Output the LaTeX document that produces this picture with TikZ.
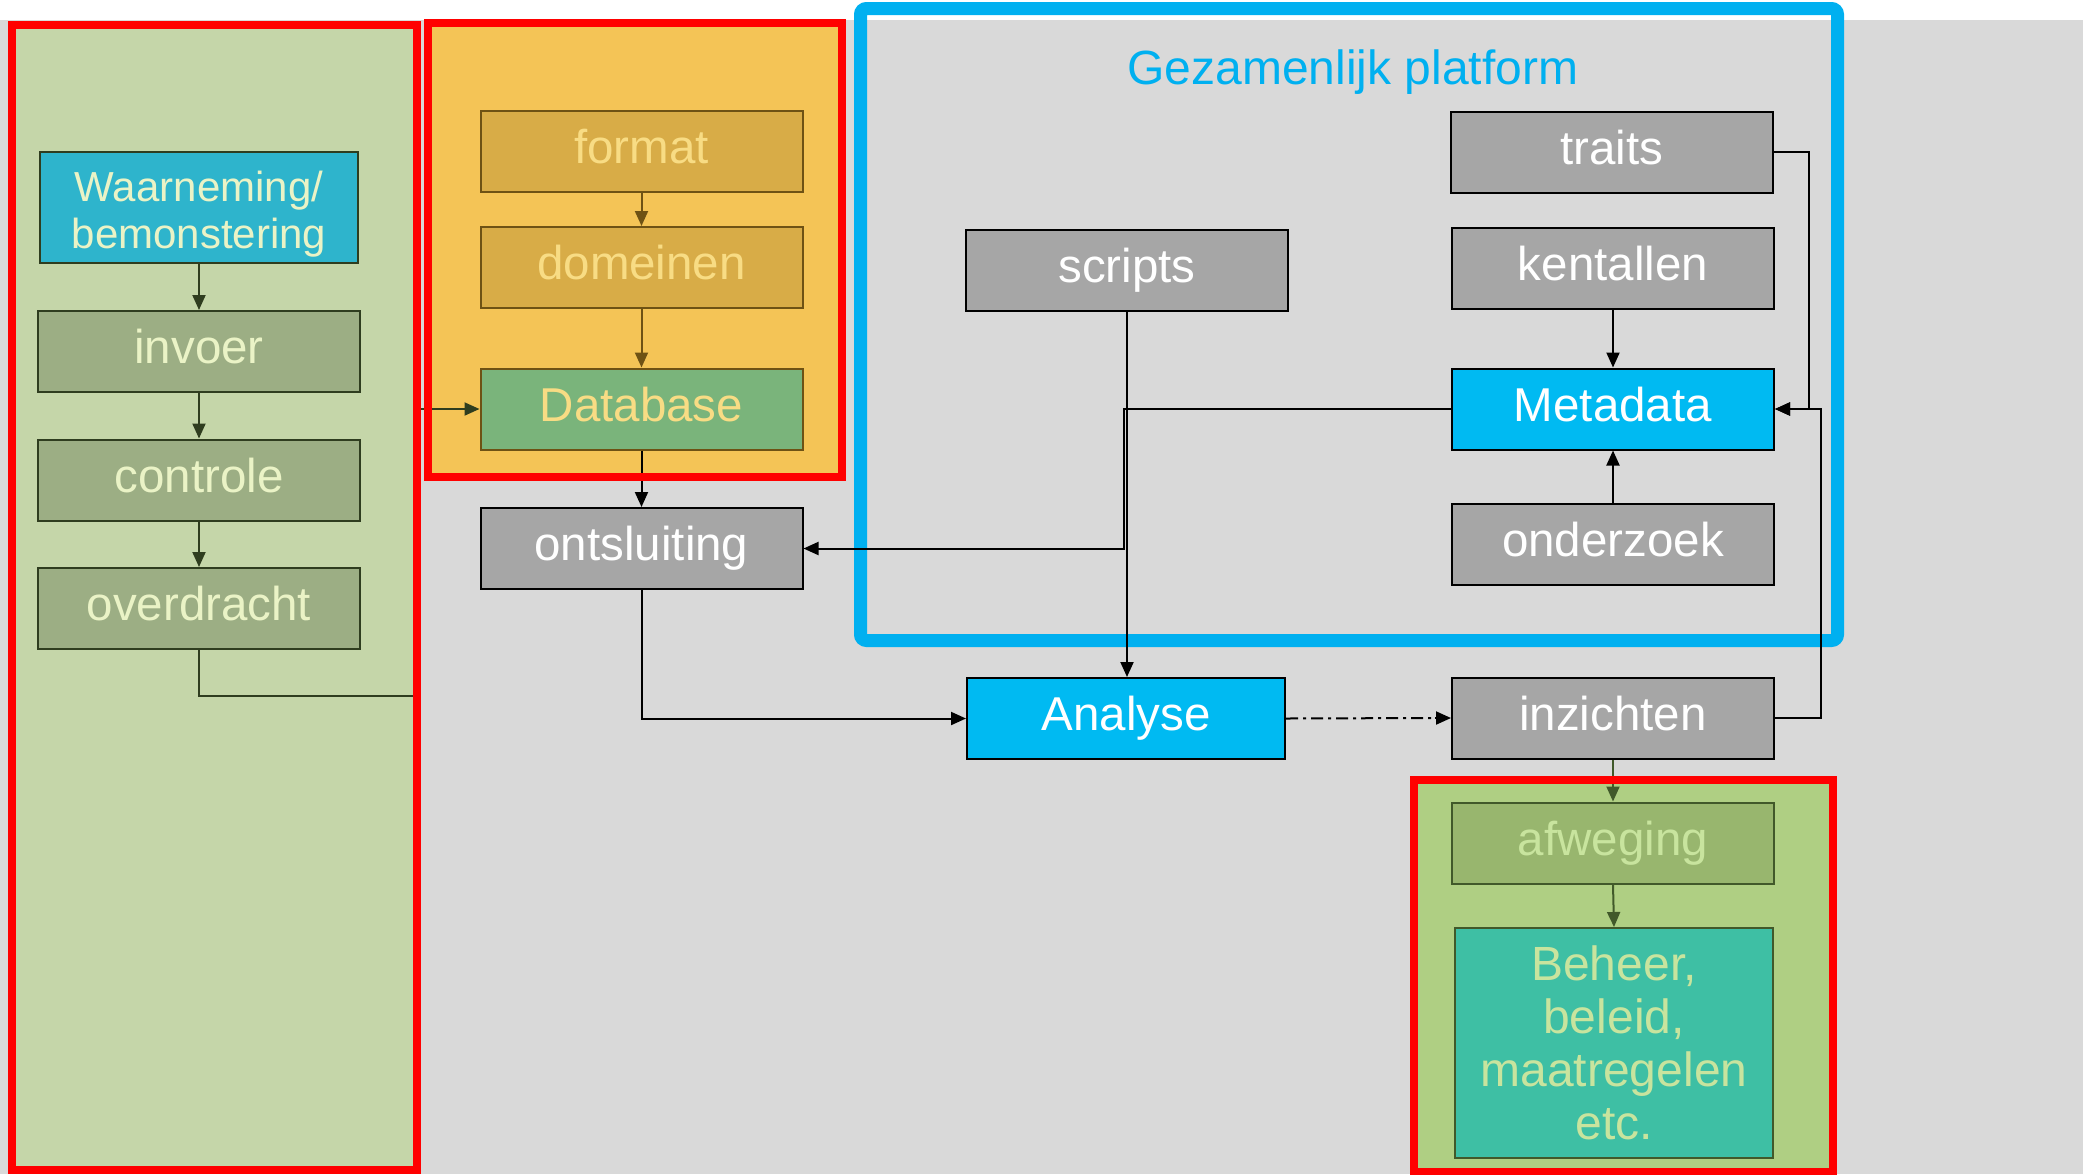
\documentclass[tikz,border=0pt]{standalone}
\usepackage{fontspec}
\setmainfont{Liberation Sans}
\usetikzlibrary{arrows.meta}
\definecolor{bggray}{HTML}{D9D9D9}
\definecolor{boxgray}{HTML}{A6A6A6}
\definecolor{platblue}{HTML}{00B0F0}
\definecolor{hiblue}{HTML}{00BAF2}
\definecolor{leftpanel}{HTML}{C5D6A9}
\definecolor{leftbox}{HTML}{9CAE84}
\definecolor{leftwaar}{HTML}{2EB4CC}
\definecolor{lefttext}{HTML}{EAF3C6}
\definecolor{leftline}{HTML}{2F3D1F}
\definecolor{orpanel}{HTML}{F4C456}
\definecolor{orbox}{HTML}{D8AC47}
\definecolor{ordb}{HTML}{7AB47B}
\definecolor{ortext}{HTML}{F8DC84}
\definecolor{orline}{HTML}{6E5214}
\definecolor{lopanel}{HTML}{AFCF83}
\definecolor{lobox}{HTML}{98B66E}
\definecolor{lobeheer}{HTML}{3EBFA4}
\definecolor{lotext}{HTML}{C8E49E}
\definecolor{loline}{HTML}{41592A}
\definecolor{redline}{HTML}{FF0000}
\begin{document}
\begin{tikzpicture}[x=0.5pt,y=-0.5pt,
  box/.style={draw=black, line width=1pt, minimum width=161pt, minimum height=40.5pt,
    inner sep=0pt, font=\fontsize{23.75}{28}\selectfont, text height=17.1pt, text depth=5pt},
  graybox/.style={box, fill=boxgray, text=white},
  bluebox/.style={box, fill=hiblue, text=white},
  leftnode/.style={box, draw=leftline, fill=leftbox, text=lefttext},
  ornode/.style={box, draw=orline, fill=orbox, text=ortext},
  lonode/.style={box, draw=loline, fill=lobox, text=lotext},
  tip/.style={-{Triangle[length=7.5pt,width=6.5pt]}},
  conn/.style={line width=1pt, tip},
  redframe/.style={draw=redline, line width=3.6pt},
]
% background
\useasboundingbox (0,0) rectangle (2083,1174);
\fill[white] (0,0) rectangle (2083,1174);
\fill[bggray] (0,20) rectangle (2083,1174);

% panel fills
\fill[leftpanel] (12,25) rectangle (417,1170);
\fill[orpanel] (428,23) rectangle (842,477);
\fill[lopanel] (1414,780) rectangle (1833,1172);

% platform frame
\draw[platblue, line width=6.5pt, rounded corners=3pt] (860.5,8.5) rectangle (1837.5,640.5);
\node[text=platblue, font=\fontsize{24}{28}\selectfont, anchor=base] (title) at (1353,84) {Gezamenlijk platform};

% left column
\node[box, draw=leftline, fill=leftwaar, text=lefttext, text height=, text depth=, align=center,
  minimum width=159pt, minimum height=55.5pt, font=\fontsize{21}{23.5}\selectfont]
  (waar) at (199,207.5) {\rule{0pt}{22pt}Waarneming/\\bemonstering};
\node[leftnode] (invoer) at (199,351.5) {invoer};
\node[leftnode] (controle) at (199,480) {controle};
\node[leftnode] (overdracht) at (199,608.5) {overdracht};

% orange column
\node[ornode] (format) at (641.5,151.5) {format};
\node[ornode] (domeinen) at (641.5,267.5) {domeinen};
\node[box, draw=orline, fill=ordb, text=ortext] (database) at (641.5,409) {Database};
\node[graybox] (ontsluiting) at (641.5,548.5) {ontsluiting};

% platform
\node[graybox] (scripts) at (1127,270.5) {scripts};
\node[graybox] (traits) at (1612,152) {traits};
\node[graybox] (kentallen) at (1613,268.5) {kentallen};
\node[bluebox] (metadata) at (1613,409) {Metadata};
\node[graybox] (onderzoek) at (1613,544) {onderzoek};
\node[bluebox, minimum width=159pt] (analyse) at (1126,718.5) {Analyse};
\node[graybox] (inzichten) at (1613,718) {inzichten};

% lower column
\node[lonode] (afweging) at (1613,843) {afweging};
\node[box, draw=loline, fill=lobeheer, text=lotext, text height=, text depth=, align=center,
  minimum width=159pt, minimum height=115pt, font=\fontsize{24}{26.5}\selectfont]
  (beheer) at (1614,1043) {Beheer,\\beleid,\\maatregelen\\etc.};

% connectors
\draw[conn, leftline] (waar.south) -- (invoer.north);
\draw[conn, leftline] (invoer.south) -- (controle.north);
\draw[conn, leftline] (controle.south) -- (overdracht.north);
\draw[conn, leftline] (overdracht.south) |- (417,696) |- (database.west);
\draw[conn, orline] (format.south) -- (domeinen.north);
\draw[conn, orline] (domeinen.south) -- (database.north);
\draw[conn, black] (database.south) -- (ontsluiting.north);
\draw[conn] (ontsluiting.south) |- (analyse.west);
\draw[conn] (scripts.south) -- (scripts.south |- analyse.north);
\draw[conn] (metadata.west) -| (1124,548.5) -- (ontsluiting.east);
\draw[conn] (kentallen.south) -- (metadata.north);
\draw[conn] (onderzoek.north) -- (metadata.south);
\draw[conn] (traits.east) -| (1809,409) -- (metadata.east);
\draw[conn] (inzichten.east) -| (1821,409) -- (metadata.east);
\draw[line width=1pt, dash pattern=on 6pt off 2.5pt on 1.5pt off 2.5pt] (analyse.east) -- ([xshift=-7.5pt]inzichten.west);
\draw[conn] ([xshift=-8pt]inzichten.west) -- (inzichten.west);
\draw[conn, loline] (inzichten.south) -- (afweging.north);
\draw[conn, loline] (afweging.south) -- (beheer.north);

% red frames
\draw[redframe] (12,25) rectangle (417,1170);
\draw[redframe] (428,23) rectangle (842,477);
\draw[redframe] (1414,780) rectangle (1833,1172);
\end{tikzpicture}
\end{document}
